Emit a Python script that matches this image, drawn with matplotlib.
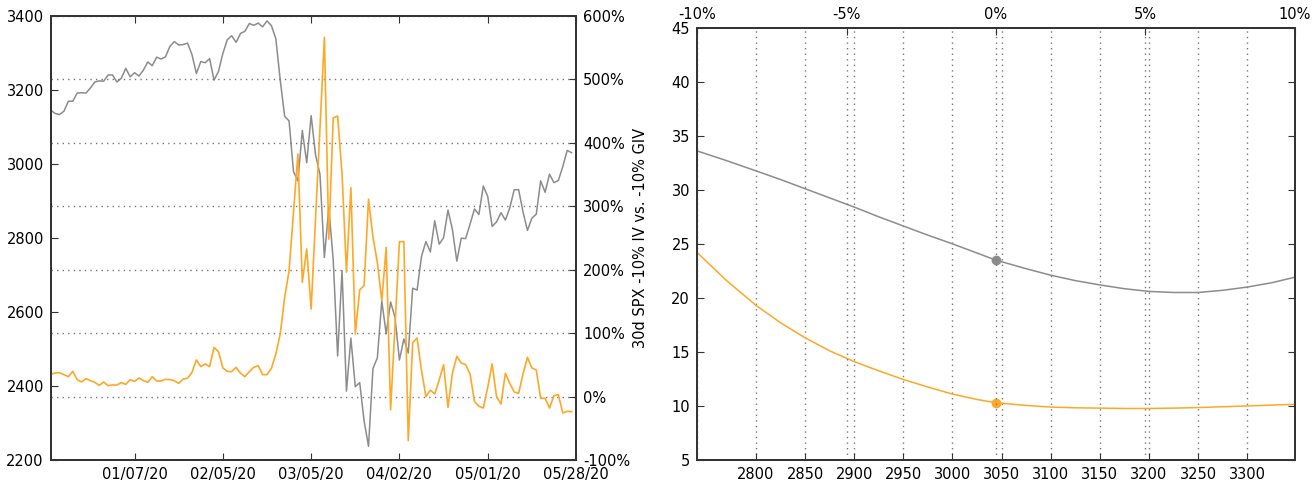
import numpy as np
import matplotlib
matplotlib.use('Agg')
import matplotlib.pyplot as plt
from matplotlib.ticker import FuncFormatter

plt.rcParams['font.family'] = ['DejaVu Sans']
plt.rcParams['axes.unicode_minus'] = False
plt.rcParams['font.size'] = 10.5

# ---------------- Left chart data ----------------
spx = [3145, 3136, 3133, 3142, 3169, 3169, 3191, 3192, 3191, 3205,
       3221, 3224, 3223, 3240, 3240, 3221, 3231, 3258, 3235, 3246,
       3237, 3253, 3275, 3265, 3288, 3283, 3289, 3317, 3330, 3321,
       3322,
       3326, 3295, 3244, 3276, 3273, 3284, 3226, 3249, 3298, 3335,
       3346, 3328, 3352, 3358, 3379, 3374, 3380, 3370, 3386, 3373,
       3338, 3226, 3128, 3116, 2979, 2954, 3090, 3003, 3130, 3024,
       2972, 2747, 2882, 2741, 2481, 2711, 2386, 2529, 2398, 2409,
       2305, 2237, 2447, 2476, 2630, 2541, 2627, 2585, 2470, 2527,
       2489, 2664, 2659, 2750, 2790, 2762, 2846, 2783, 2800,
       2875, 2823, 2737, 2799, 2798, 2837, 2878, 2863, 2940, 2912,
       2831, 2843, 2868, 2848, 2881, 2930, 2930, 2870, 2820, 2853,
       2864, 2954, 2923, 2972, 2949, 2955, 2992, 3036, 3030]

skew = [35, 37, 37.6, 34.5, 31.3, 39.7, 26.6, 22.9, 28.2, 25,
        22.4, 17.6, 22.9, 17.1, 18.2, 18.2, 21.8, 19.2, 26.6, 24,
        29.2, 25, 22.4, 31.3, 24.5, 24.5, 27.1, 26.6, 25, 20.8,
        27.6,
        28.7, 38.1, 57.6, 47.1, 51.3, 47.1, 77.5, 70.7, 45, 39.7,
        39.2, 46, 36.6, 31.3, 39.2, 46, 48.6, 34.5, 34.5, 44.4,
        67, 98.5, 156.3, 198.3, 290.2, 382.1, 179.9, 232.5, 137.9, 281,
        423, 566, 248, 439, 442, 351, 196, 329, 98.5, 168,
        175, 311, 251, 211, 151, 235, -21, 112, 244, 244,
        -69.5, 85, 92, 41, 0, 10, 4, 26, 50,
        -17, 36.6, 63.3, 52.8, 50.2, 35.5, -7.6, -15.4, -18.1, 14.5,
        51.3, -0.2, -11.8, 36.6, 20.8, 7.1, 5, 35.5, 61.8, 45,
        41.8, -2.8, -2.8, -18.1, 1.4, 2.9, -25.9, -23.3, -23.8]

date_tick_pos = [19, 39, 59, 79, 99, 119]
date_tick_labels = ['01/07/20', '02/05/20', '03/05/20', '04/02/20', '05/01/20', '05/28/20']
right_ylabel = '30d SPX -10% IV vs. -10% GIV'

# ---------------- Right chart data ----------------
spot = 3044.31
strikes = [2740, 2770, 2800, 2825, 2850, 2875, 2900, 2925, 2950, 2975,
           3000, 3025, 3044, 3075, 3100, 3125, 3150, 3175, 3200, 3225,
           3250, 3275, 3300, 3325, 3348]
iv_gray = [33.6, 32.7, 31.75, 30.95, 30.1, 29.25, 28.4, 27.5, 26.65, 25.8,
           25.0, 24.15, 23.5, 22.7, 22.1, 21.6, 21.2, 20.85, 20.6, 20.5,
           20.5, 20.7, 21.0, 21.4, 21.9]
iv_orange = [24.2, 21.6, 19.3, 17.7, 16.3, 15.1, 14.1, 13.25, 12.45, 11.75,
             11.1, 10.6, 10.3, 10.05, 9.9, 9.83, 9.8, 9.77, 9.77, 9.8,
             9.85, 9.93, 10.0, 10.08, 10.15]
atm_gray = 23.5
atm_orange = 10.3
moneyness_ticks = [-10, -5, 0, 5, 10]
strike_ticks = [2800, 2850, 2900, 2950, 3000, 3050, 3100, 3150, 3200, 3250, 3300]
iv_ticks = [5, 10, 15, 20, 25, 30, 35, 40, 45]

GRAY = '#8c8c8c'
ORANGE = '#ffa726'
SPINE = '#333333'
GRID = dict(linestyle=(0, (1, 3)), color='#777777', linewidth=1.0)

W, H = 1315, 480
fig = plt.figure(figsize=(W / 100, H / 100), dpi=100)
fig.patch.set_facecolor('white')

def style_spines(ax):
    for s in ax.spines.values():
        s.set_color(SPINE)
        s.set_linewidth(1.3)

# ---- Left chart ----
ax1 = fig.add_axes([50.7 / W, 1 - 460 / H, (576 - 50.7) / W, (460 - 15.7) / H])
ax2 = ax1.twinx()
x = np.arange(len(spx))
ax1.plot(x, spx, color=GRAY, lw=1.1)
ax2.plot(x, skew, color=ORANGE, lw=1.2)
ax1.set_xlim(0, 119)
ax1.set_ylim(2200, 3400)
ax1.set_yticks(range(2200, 3401, 200))
ax2.set_ylim(-100, 600)
ax2.set_yticks(range(-100, 601, 100))
ax2.yaxis.set_major_formatter(FuncFormatter(lambda v, p: f'{v:.0f}%'))
ax1.set_xticks(date_tick_pos)
ax1.set_xticklabels(date_tick_labels)
ax2.grid(axis='y', **GRID)
ax2.set_ylabel(right_ylabel, fontsize=10.5, labelpad=2)
ax1.tick_params(direction='in', length=5, top=True, right=False, color=SPINE, pad=5)
ax2.tick_params(direction='in', length=5, color=SPINE, pad=5)
style_spines(ax1)
style_spines(ax2)

# ---- Right chart ----
ax3 = fig.add_axes([697 / W, 1 - 460 / H, (1295 - 697) / W, (460 - 27.7) / H])
ax3.plot(strikes, iv_gray, color=GRAY, lw=1.1)
ax3.plot(strikes, iv_orange, color=ORANGE, lw=1.1)
ax3.plot([spot], [atm_gray], 'o', color=GRAY, ms=6, mec=GRAY)
ax3.plot([spot], [atm_orange], 'o', color=ORANGE, ms=6, mec=ORANGE)
ax3.set_xlim(0.9 * spot, 1.1 * spot)
ax3.set_ylim(5, 45)
ax3.set_yticks(iv_ticks)
ax3.set_xticks(strike_ticks)
ax3.grid(axis='x', **GRID)
ax3.tick_params(direction='in', length=5, right=True, labelright=False,
                top=False, color=SPINE, pad=5)
ax4 = ax3.twiny()
ax4.set_xlim(-10, 10)
ax4.set_xticks(moneyness_ticks)
ax4.xaxis.set_major_formatter(FuncFormatter(lambda v, p: f'{v:.0f}%'))
ax4.grid(axis='x', **GRID)
ax4.tick_params(direction='in', length=5, color=SPINE, pad=4)
style_spines(ax3)
style_spines(ax4)

fig.savefig('out.png', dpi=100, facecolor='white')
